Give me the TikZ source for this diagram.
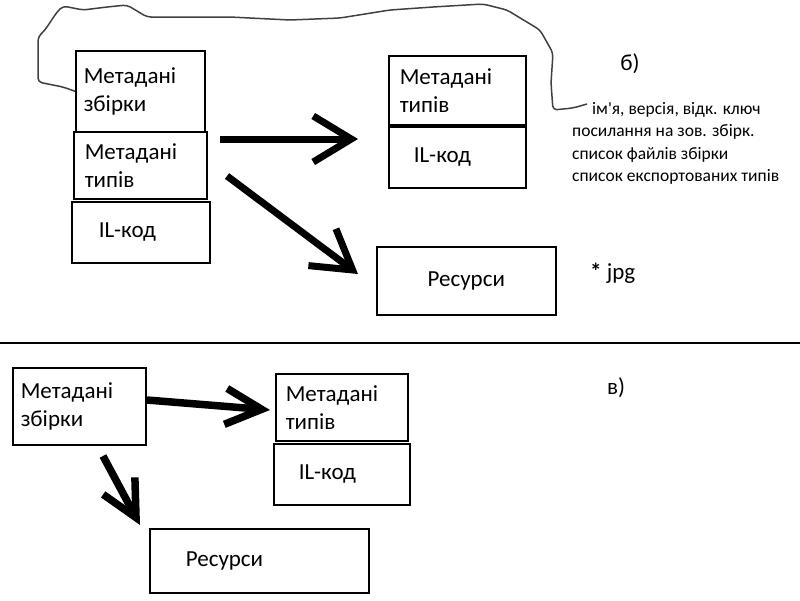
\documentclass[tikz,border=0pt]{standalone}
\usepackage{fontspec}
\setmainfont{Carlito}[Ligatures=TeXOff]
\usetikzlibrary{arrows.meta,positioning}

\begin{document}
\begin{tikzpicture}[
  x=1pt, y=-1pt,
  box/.style={draw, line width=1.5pt, anchor=north west, inner sep=0pt,
              align=left, font=\fontsize{23}{28}\selectfont},
  sz/.style n args={3}{minimum width=#1pt, minimum height=#2pt, text width=#3pt},
  fat/.style={line width=7pt, -{Straight Barb[length=38pt,width=46pt]}},
  slim/.style={line width=7.5pt, -{Straight Barb[length=36pt,width=36pt]}},
  lbl/.style={inner sep=0pt, font=\fontsize{23}{28}\selectfont}
]
\useasboundingbox (0,0) rectangle (800,600);

% --- part b)
\node[box, sz={129}{81}{113}] (asmB) at (75,50) {Метадані\\збірки};
\node[box, sz={133}{67}{111}] (typA) at (73,131) {Метадані\\типів};
\node[box, sz={138}{61}{84}] (ilA) at (71,201) {IL-код};
\node[box, sz={137}{69}{115}] (typB) at (388,55) {Метадані\\типів};
\node[box, sz={137}{61}{87}] (ilB) at (388,126) {IL-код};
\node[box, sz={179}{68}{150}, align=center] (resB) at (376,246) {Ресурси};

\node[lbl] (partB) at (630,64) {б)};
\node[lbl, anchor=north west, align=left, font=\fontsize{17.5}{22.5}\selectfont]
  (info) at (572,102) {\hspace*{20pt}ім'я, версія, відк. ключ\\
  посилання на зов. збірк.\\список файлів збірки\\список експортованих типів};
\node[lbl, anchor=west] (jpg) at (590,273) {\textbf{*} jpg};

\coordinate (a1s) at (220,139);
\coordinate (a1e) at (358,139);
\coordinate (a2s) at (227,176);
\coordinate (a2e) at (358,274);
\draw[fat] (a1s) -- (a1e);
\draw[fat] (a2s) -- (a2e);

% hand drawn bracket round the assembly metadata
\draw[line width=1.5pt, black!75, line join=round, rounded corners=4pt]
  (asmB.west) -- (63,87) -- (38,82) -- (38,37) -- (45,30) -- (57,12) -- (63,6)
  -- (83,10) -- (107,7) -- (127,5) -- (147,17) -- (230,17) -- (290,20)
  -- (340,18) -- (390,10) -- (433,7) -- (483,4) -- (507,10) -- (540,30)
  -- (553,53) -- (551,83) -- (553,110) -- (573,108) -- (587,104);

% --- separator
\draw[line width=2pt] (0,343) -- (800,343);

% --- part v)
\node[box, sz={133}{77}{117}] (asmC) at (12,367) {Метадані\\збірки};
\node[box, sz={132}{67}{112}] (typC) at (275,373) {Метадані\\типів};
\node[box, sz={136}{61}{86}] (ilC) at (273,443) {IL-код};
\node[box, sz={219}{64}{147}] (resC) at (149,528) {Ресурси};

\node[lbl] (partC) at (616,388) {в)};

\coordinate (b1s) at (147,400);
\coordinate (b1e) at (270,410);
\coordinate (b2s) at (103,456);
\coordinate (b2e) at (140,525);
\draw[slim] (b1s) -- (b1e);
\draw[slim] (b2s) -- (b2e);
\end{tikzpicture}
\end{document}
